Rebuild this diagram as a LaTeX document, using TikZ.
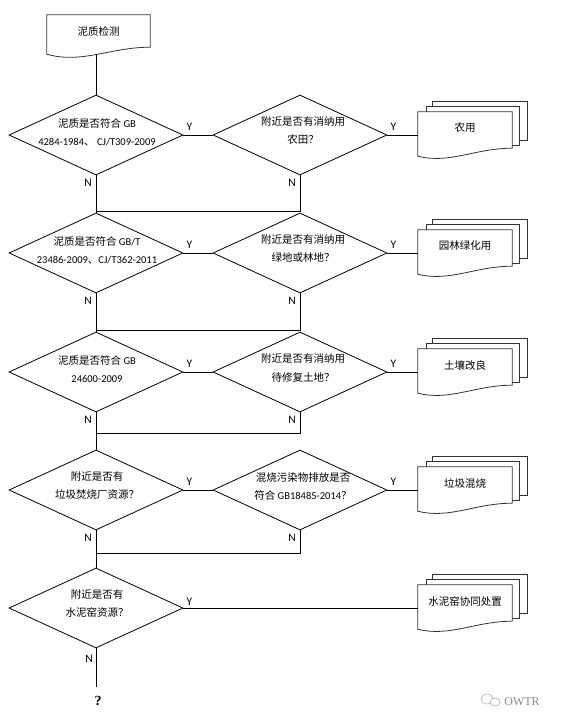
\documentclass[tikz,border=0pt]{standalone}
\usepackage{fontspec}
\setmainfont{Carlito}
\newfontfamily\cjkfont{Noto Sans CJK SC}
\newfontfamily\serifwm{Liberation Serif}
\usetikzlibrary{shapes.geometric}
\newcommand{\zhs}[1]{{\cjkfont #1}}
\tikzset{
  dia/.style={diamond, draw, line width=0.8pt, minimum width=174pt, minimum height=80pt, inner sep=0pt},
  txt/.style={align=center, font=\fontsize{10.5}{18}\selectfont, inner sep=0pt},
  lbl/.style={font=\fontsize{11.5}{12}\selectfont, inner sep=0pt},
  conn/.style={line width=0.8pt},
  docbox/.style={minimum width=94pt, minimum height=36pt, inner sep=0pt},
  page/.style={draw=black!80, fill=white, line width=0.8pt},
}
\newcommand{\mdoc}[3]{%
  \node[docbox] (#1) at (465,#2) {};
  \draw[page] ([shift={(15,-10)}]#1.north west) rectangle ([shift={(15,-8)}]#1.south east);
  \draw[page] ([shift={(9,-5)}]#1.north west) rectangle ([shift={(7,-3)}]#1.south east);
  \draw[page] (#1.north west) -- (#1.north east) -- (#1.south east)
     .. controls +(-37,0) and +(32,8) .. ([shift={(0,8)}]#1.south west) -- cycle;
  \node[txt] at ([shift={(0,-2)}]#1.center) {\zhs{#3}};
}
\begin{document}
\begin{tikzpicture}[x=1pt,y=-1pt]
\fill[white] (0,0) rectangle (562,725);
\useasboundingbox (0,0) rectangle (562,725);

% start document
\node[minimum width=103pt, minimum height=32pt, inner sep=0pt] (start) at (98.5,31) {};
\draw[page] (start.north west) -- (start.north east) -- (start.south east)
   .. controls +(-40,0) and +(35,10) .. ([shift={(0,7)}]start.south west) -- cycle;
\node[txt] at (start.center) {\zhs{泥质检测}};

% diamonds
\node[dia] (d1) at (96,135) {};
\node[dia] (d1b) at (300,135) {};
\node[dia] (d2) at (96,253) {};
\node[dia] (d2b) at (300,253) {};
\node[dia] (d3) at (96,372) {};
\node[dia] (d3b) at (300,372) {};
\node[dia] (d4) at (96,490) {};
\node[dia] (d4b) at (300,490) {};
\node[dia] (d5) at (96,608) {};

\node[txt] at ([shift={(1,-3)}]d1) {\zhs{泥质是否符合} GB\\4284-1984\zhs{、} CJ/T309-2009};
\node[txt] at ([shift={(3,-4)}]d1b) {\zhs{附近是否有消纳用}\\\zhs{农田？}};
\node[txt] at ([shift={(1,-3)}]d2) {\zhs{泥质是否符合} GB/T\\23486-2009\zhs{、}CJ/T362-2011};
\node[txt] at ([shift={(3,-4)}]d2b) {\zhs{附近是否有消纳用}\\\zhs{绿地或林地？}};
\node[txt] at ([shift={(1,-3)}]d3) {\zhs{泥质是否符合} GB\\24600-2009};
\node[txt] at ([shift={(3,-4)}]d3b) {\zhs{附近是否有消纳用}\\\zhs{待修复土地？}};
\node[txt] at ([shift={(1,-4)}]d4) {\zhs{附近是否有}\\\zhs{垃圾焚烧厂资源？}};
\node[txt] at ([shift={(3,-4)}]d4b) {\zhs{混烧污染物排放是否}\\\zhs{符合} GB18485-2014\zhs{？}};
\node[txt] at ([shift={(1,-4)}]d5) {\zhs{附近是否有}\\\zhs{水泥窑资源？}};

% result documents
\mdoc{r1}{130}{农用}
\mdoc{r2}{248}{园林绿化用}
\mdoc{r3}{367}{土壤改良}
\mdoc{r4}{485}{垃圾混烧}
\mdoc{r5}{603}{水泥窑协同处置}

% connectors
\coordinate (s0) at ([shift={(0,7.2)}]start.south -| d1.north);
\draw[conn] (s0) -- (d1.north);
\draw[conn] (d1.south) -- (d2.north);
\draw[conn] (d2.south) -- (d3.north);
\draw[conn] (d3.south) -- (d4.north);
\draw[conn] (d4.south) -- (d5.north);
\coordinate (endp) at (96,687);
\draw[conn] (d5.south) -- (endp);

\draw[conn] (d1.east) -- (d1b.west);
\draw[conn] (d2.east) -- (d2b.west);
\draw[conn] (d3.east) -- (d3b.west);
\draw[conn] (d4.east) -- (d4b.west);
\draw[conn] (d1b.east) -- (d1b.east -| r1.west);
\draw[conn] (d2b.east) -- (d2b.east -| r2.west);
\draw[conn] (d3b.east) -- (d3b.east -| r3.west);
\draw[conn] (d4b.east) -- (d4b.east -| r4.west);
\draw[conn] (d5.east) -- (d5.east -| r5.west);

\coordinate (j1) at (96,211);
\coordinate (j2) at (96,330);
\coordinate (j3) at (96,433);
\coordinate (j4) at (96,553);
\draw[conn] (d1b.south) |- (j1);
\draw[conn] (d2b.south) |- (j2);
\draw[conn] (d3b.south) |- (j3);
\draw[conn] (d4b.south) |- (j4);

% labels
\foreach \d in {d1,d1b,d2,d2b,d3,d3b,d4,d4b}{
  \node[lbl] at ([shift={(6,-8)}]\d.east) {Y};
  \node[lbl] at ([shift={(-8,7)}]\d.south) {N};
}
\node[lbl] at ([shift={(6,-6)}]d5.east) {Y};
\node[lbl] at ([shift={(-7,10)}]d5.south) {N};

\node[font=\serifwm\bfseries\fontsize{14}{14}\selectfont, inner sep=0pt] (q) at (98,701) {?};

% watermark
\draw[black!35, line width=0.5pt] (487,699) ellipse (6 and 5);
\draw[black!35, line width=0.5pt, fill=white] (495,702) ellipse (5 and 4);
\node[font=\serifwm\fontsize{12}{12}\selectfont, text=black!45, inner sep=0pt] (wm) at (522,702) {OWTR};
\end{tikzpicture}
\end{document}
